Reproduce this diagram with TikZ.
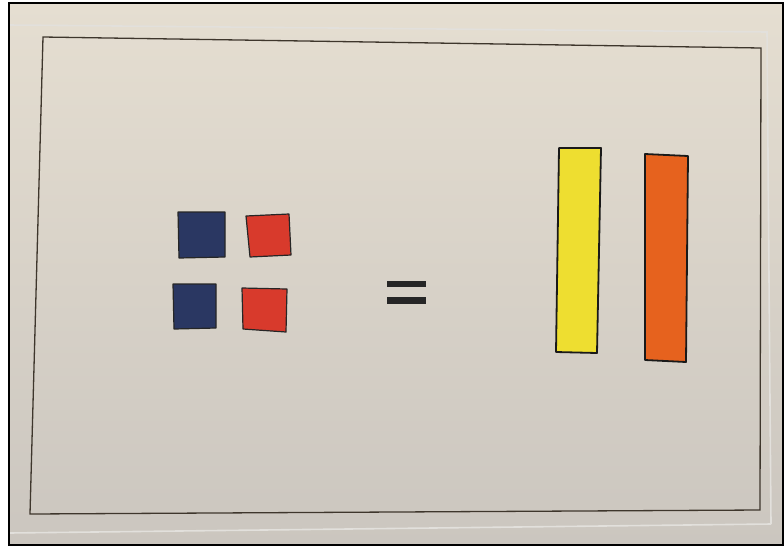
\documentclass[tikz,border=0pt]{standalone}
\usetikzlibrary{positioning}
\definecolor{cardtop}{HTML}{E5DED1}
\definecolor{cardbot}{HTML}{CBC6BF}
\definecolor{tileblue}{HTML}{2A3762}
\definecolor{tilered}{HTML}{D83A2C}
\definecolor{baryellow}{HTML}{EEDE30}
\definecolor{barorange}{HTML}{E6621E}
\definecolor{inkline}{HTML}{3E362C}

\begin{document}
\begin{tikzpicture}[
  x=1pt, y=-1pt,
  tile/.style={draw=black!85, line width=1.2pt, line join=round},
  bar/.style={draw=black!90, line width=1.8pt, line join=round},
  frame/.style={draw=inkline, line width=1.3pt},
  edge/.style={draw=white!45!cardbot, line width=1.6pt},
]
\useasboundingbox (0,0) rectangle (784,547);
\fill[white] (0,0) rectangle (784,547);
% photo of the card
\shade[top color=cardtop, bottom color=cardbot] (9,3) rectangle (783,545);
\draw[edge] (9,25) -- (767,32) -- (771,524);
\draw[edge] (9,533) -- (771,524);
\draw[frame] (43,37) -- (761,48) -- (760,510) -- (30,514) -- cycle;
\draw[line width=1.6pt] (9,3) rectangle (783,545);

% square tiles
\filldraw[tile, fill=tileblue] (178,212) -- (225,212) -- (225,257) -- (179,258) -- cycle;
\filldraw[tile, fill=tilered]  (246,216) -- (289,214) -- (291,255) -- (250,257) -- cycle;
\filldraw[tile, fill=tileblue] (173,284) -- (216,284) -- (216,328) -- (174,329) -- cycle;
\filldraw[tile, fill=tilered]  (242,288) -- (287,289) -- (286,332) -- (243,329) -- cycle;

% equals sign
\fill[black!85] (387,281) rectangle (426,287);
\fill[black!85] (387,297) rectangle (426,304);

% long bars
\filldraw[bar, fill=baryellow] (559,148) -- (601,148) -- (597,353) -- (556,352) -- cycle;
\filldraw[bar, fill=barorange] (645,154) -- (688,156) -- (686,362) -- (645,360) -- cycle;
\end{tikzpicture}
\end{document}
